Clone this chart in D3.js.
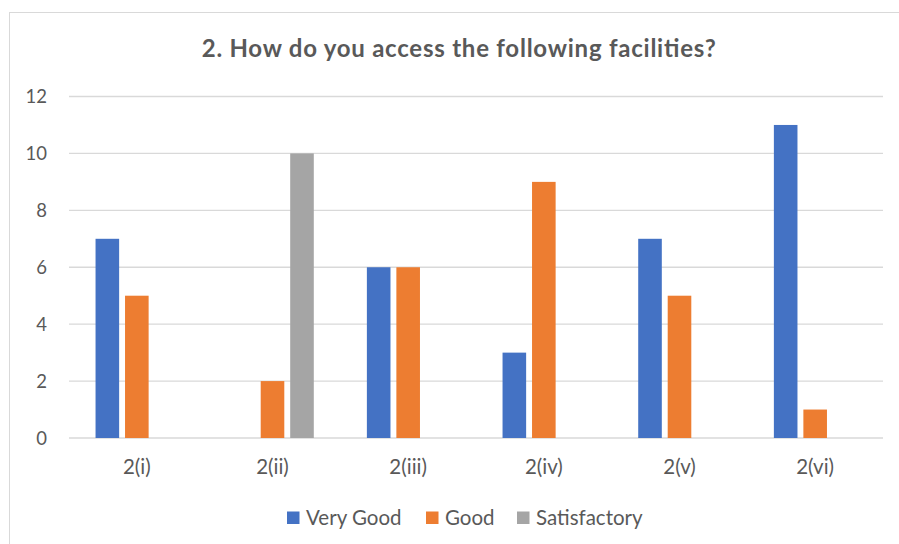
<!DOCTYPE html>
<html><head><meta charset="utf-8">
<script src="https://cdn.jsdelivr.net/npm/d3@7"></script>
<style>body{margin:0;background:#fff;}svg{display:block;font-family:Lato,"Open Sans",sans-serif;}</style>
</head><body>
<svg id="c" width="899" height="544"></svg>
<script>
const categories = ["2(i)","2(ii)","2(iii)","2(iv)","2(v)","2(vi)"];
const seriesNames = ["Very Good","Good","Satisfactory"];
const veryGood = [7,0,6,3,7,11];
const good = [5,2,6,9,5,1];
const satisfactory = [0,10,0,0,0,0];
const yTicks = [0,2,4,6,8,10,12];
const colors = ["#4472C4","#ED7D31","#A5A5A5"];
const title = "2. How do you access the following facilities?";

const svg = d3.select("#c");
svg.append("rect").attr("x",9.5).attr("y",12.5).attr("width",900).attr("height",540)
  .attr("fill","#fff").attr("stroke","#d9d9d9");

const m = {l:69, r:883, t:96.5, b:438};
const x = d3.scaleBand().domain(categories).range([m.l,m.r]);
const xs = d3.scaleBand().domain(seriesNames).range([0,x.bandwidth()]).paddingInner(0.2).paddingOuter(0.9);
const y = d3.scaleLinear().domain([0,12]).range([m.b,m.t]);

svg.append("g").selectAll("line").data(yTicks).join("line")
  .attr("x1",m.l).attr("x2",m.r).attr("y1",d=>y(d)).attr("y2",d=>y(d))
  .attr("stroke","#d9d9d9").attr("stroke-width",1.3);

svg.append("g").selectAll("text").data(yTicks).join("text")
  .attr("x",47).attr("y",d=>y(d)+6.7).attr("text-anchor","end")
  .attr("font-size",18.5).attr("fill","#595959").text(d=>d);

const series = [veryGood, good, satisfactory];
series.forEach((vals,si)=>{
  svg.append("g").selectAll("rect").data(vals).join("rect")
    .attr("x",(d,i)=>x(categories[i])+xs(seriesNames[si]))
    .attr("width",xs.bandwidth())
    .attr("y",d=>y(d)).attr("height",d=>y(0)-y(d))
    .attr("fill",colors[si]);
});

svg.append("g").selectAll("text").data(categories).join("text")
  .attr("x",d=>x(d)+x.bandwidth()/2).attr("y",474).attr("text-anchor","middle")
  .attr("font-size",20.5).attr("fill","#595959").text(d=>d);

svg.append("text").attr("x",458.7).attr("y",57).attr("text-anchor","middle")
  .attr("font-size",24).attr("font-weight","bold").attr("fill","#595959")
  .attr("textLength",514).attr("lengthAdjust","spacing").text(title);

const legX = [287,426,517];
const lg = svg.append("g");
seriesNames.forEach((n,i)=>{
  lg.append("rect").attr("x",legX[i]).attr("y",511.5).attr("width",12.5).attr("height",12.5).attr("fill",colors[i]);
  lg.append("text").attr("x",legX[i]+19).attr("y",525).attr("font-size",20.5).attr("fill","#595959").text(n);
});
</script>
</body></html>
